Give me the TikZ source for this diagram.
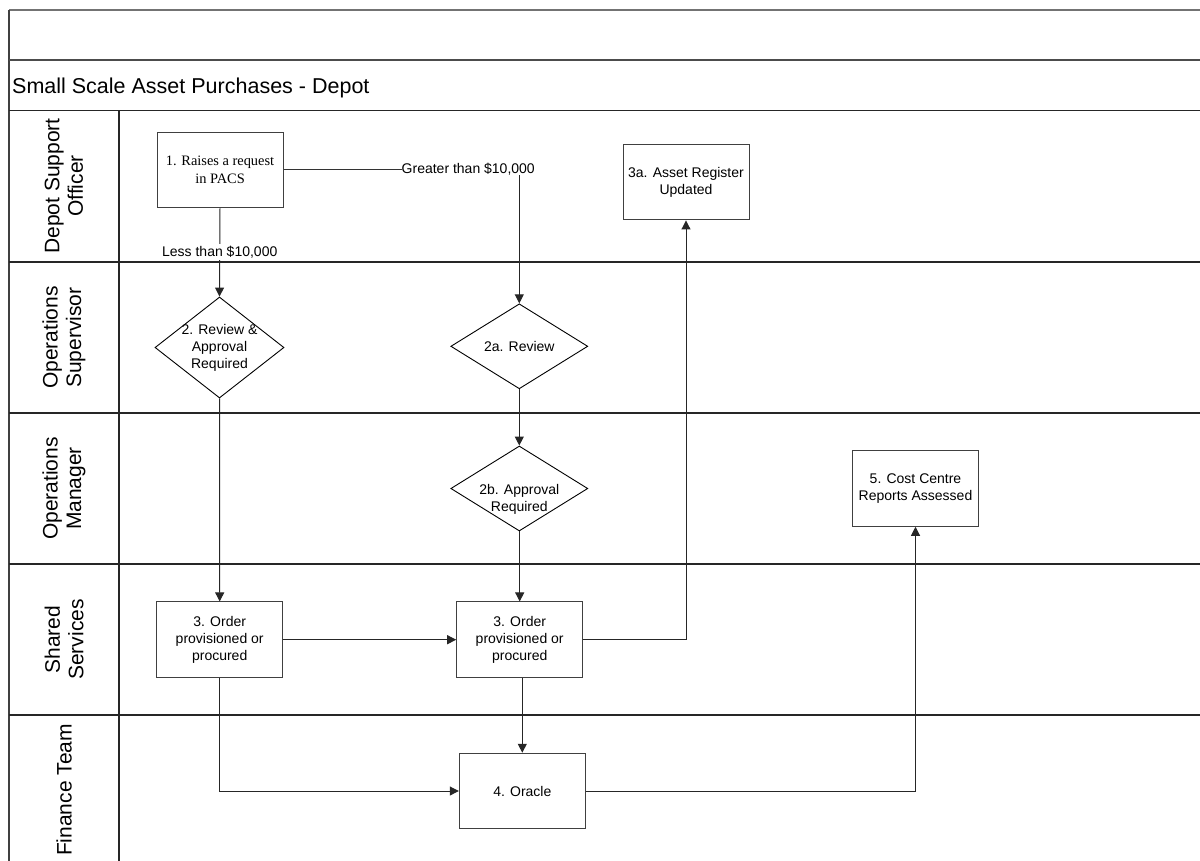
\documentclass[tikz,border=0pt]{standalone}
\usepackage{fontspec}
\setmainfont{Liberation Sans}
\newfontfamily\serifnode{Liberation Serif}
\usetikzlibrary{shapes.geometric,arrows.meta}
\begin{document}
\begin{tikzpicture}[x=1pt,y=-1pt,
  lane/.style={line width=1.5pt, draw=black!85},
  box/.style={draw=black!75, line width=1pt, rectangle, minimum width=126pt, minimum height=75.5pt, inner sep=0pt, font=\fontsize{14}{17}\selectfont, align=center},
  dia/.style={draw=black, line width=0.9pt, diamond, inner sep=0pt, minimum width=137pt, minimum height=85pt},
  txt/.style={font=\fontsize{14}{17}\selectfont, align=center, inner sep=0pt},
  arr/.style={draw=black!85, line width=1pt, -{Triangle[length=9pt,width=9pt]}},
  conn/.style={draw=black!80, line width=1pt},
  lanelbl/.style={font=\fontsize{21}{23.5}\selectfont, align=center, rotate=90, inner sep=0pt}
]
\useasboundingbox (0,0) rectangle (1200,860);
\clip (0,0) rectangle (1200,860);
% frame
\draw[line width=1.5pt, draw=black!55] (9,10) -- (1210,10);
\draw[line width=1.5pt, draw=black!75] (9,10) -- (9,870);
\draw[line width=1.5pt, draw=black!70] (9,60) -- (1210,60);
\draw[lane] (9,110.7) -- (1210,110.7);
\draw[lane] (9,262) -- (1210,262);
\draw[lane] (9,413) -- (1210,413);
\draw[lane] (9,564) -- (1210,564);
\draw[lane] (9,715) -- (1210,715);
\draw[lane] (119,110.7) -- (119,870);
% title
\node[anchor=base west, inner sep=0pt, font=\fontsize{21.5}{24}\selectfont] (title) at (12,93) {Small Scale Asset Purchases - Depot};
% lane labels
\node[lanelbl] (l1) at (64,186) {Depot Support\\Officer};
\node[lanelbl] (l2) at (64,337.5) {Operations\\Supervisor};
\node[lanelbl] (l3) at (64,488.5) {Operations\\Manager};
\node[lanelbl] (l4) at (64,639.5) {Shared\\Services};
\node[lanelbl] (l5) at (64,790) {Finance Team};
% nodes
\node[box, font=\serifnode\fontsize{14.4}{18.3}\selectfont] (n1) at (220,170) {1. Raises a request\\in PACS};
\node[dia, minimum width=129pt, minimum height=101pt, label={[txt]center:{2. Review \&\\Approval\\Required}}] (d2) at (219.5,347.5) {};
\node[dia, label={[txt]center:{2a. Review}}] (d2a) at (519.3,346.3) {};
\node[dia, label={[txt, yshift=-11pt]center:{2b. Approval\\Required}}] (d2b) at (519.3,488.5) {};
\node[box] (r3a) at (686,182.2) {3a. Asset Register\\Updated};
\node[box] (c5) at (915.5,488.5) {5. Cost Centre\\Reports Assessed};
\node[box] (o3l) at (219.7,639.7) {3. Order\\provisioned or\\procured};
\node[box] (o3r) at (519.7,639.7) {3. Order\\provisioned or\\procured};
\node[box] (oracle) at (522.3,791) {4. Oracle};
\node[txt, anchor=west] (gt) at (401.5,169) {Greater than \$10,000};
% connectors
\draw[arr] (n1.south) -- node[txt, fill=white, inner sep=2pt, pos=0.5] (lt) {Less than \$10,000} (d2.north);
\draw[conn] (n1.east |- gt.west) -- (gt.west);
\draw[arr] (gt.south -| d2a.north) -- (d2a.north);
\draw[arr] (d2a.south) -- (d2b.north);
\draw[arr] (d2b.south -| o3r.north) -- (o3r.north);
\draw[arr] (d2.south) -- (o3l.north);
\draw[arr] (o3l.east) -- (o3r.west);
\draw[arr] (o3l.south) |- (oracle.west);
\draw[arr] (o3r.south -| oracle.north) -- (oracle.north);
\draw[arr] (o3r.east) -| (r3a.south);
\draw[arr] (oracle.east) -| (c5.south);
\end{tikzpicture}
\end{document}
